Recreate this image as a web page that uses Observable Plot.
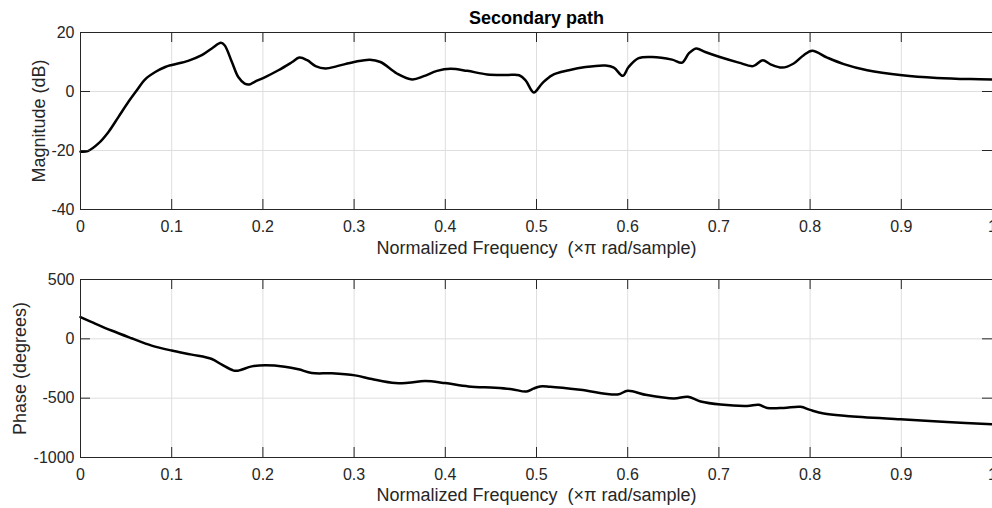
<!DOCTYPE html>
<html><head><meta charset="utf-8">
<script src="https://cdn.jsdelivr.net/npm/d3@7"></script>
<script src="https://cdn.jsdelivr.net/npm/@observablehq/plot@0.6"></script>
<style>
html,body{margin:0;padding:0;background:#fff;overflow:hidden;}
#chart svg{display:block;overflow:visible;}
</style></head><body><div id="chart"></div>
<script>
// ---- data ----
const freqMag = [0,0.008,0.0197,0.0307,0.0417,0.0526,0.0618,0.0709,0.082,0.0929,0.1,0.118,0.133,0.144,0.154,0.158,0.166,0.173,0.18,0.185,0.191,0.2025,0.217,0.2317,0.24,0.2486,0.2577,0.2686,0.2814,0.3,0.3173,0.3289,0.347,0.3637,0.3764,0.391,0.4057,0.424,0.446,0.468,0.481,0.488,0.497,0.506,0.517,0.5355,0.5537,0.5757,0.5848,0.5946,0.601,0.612,0.6268,0.6487,0.6597,0.667,0.675,0.685,0.701,0.7218,0.7375,0.748,0.7566,0.7694,0.782,0.793,0.8023,0.8187,0.837,0.8626,0.901,0.939,0.976,1.0];
const magDb = [-20.4,-20.2,-17.6,-13.7,-8.6,-3.5,0.4,4.1,6.6,8.3,9.0,10.4,12.3,14.6,16.5,15.7,10.0,4.9,2.7,2.4,3.3,4.9,7.2,9.9,11.5,10.6,8.6,7.8,8.6,10.0,10.8,10.0,6.1,4.1,5.2,7.0,7.7,7.0,5.8,5.6,5.5,3.8,-0.3,2.7,5.5,7.2,8.3,8.8,8.1,5.3,8.3,11.3,11.7,10.8,9.8,12.9,14.6,13.4,11.7,9.8,8.6,10.6,9.2,8.1,9.5,12.3,13.8,11.5,9.3,7.2,5.5,4.6,4.2,4.1];
const freqPhase = [0,0.0124,0.034,0.056,0.078,0.1,0.122,0.144,0.155,0.168,0.173,0.1878,0.2025,0.224,0.239,0.2536,0.2756,0.301,0.3195,0.345,0.3596,0.378,0.3998,0.4254,0.4547,0.473,0.489,0.4965,0.504,0.515,0.548,0.589,0.6,0.621,0.6506,0.666,0.68,0.702,0.731,0.7438,0.753,0.7712,0.7895,0.8,0.815,0.84,0.899,0.95,1.0];
const phaseDeg = [183,141,70,5,-57,-99,-133,-170,-218,-268,-268,-232,-223,-235,-257,-288,-291,-308,-339,-373,-370,-356,-373,-401,-412,-424,-444,-420,-401,-404,-429,-469,-438,-474,-503,-489,-528,-554,-565,-556,-582,-582,-573,-599,-630,-650,-678,-700,-720];

const xTicks = [0,0.1,0.2,0.3,0.4,0.5,0.6,0.7,0.8,0.9,1];
const xTickLabels = ["0","0.1","0.2","0.3","0.4","0.5","0.6","0.7","0.8","0.9","1"];
const magTicks = [-40,-20,0,20];
const magTickLabels = ["-40","-20","0","20"];
const phaseTicks = [-1000,-500,0,500];
const phaseTickLabels = ["-1000","-500","0","500"];
const titleText = "Secondary path";
const xLabel = "Normalized Frequency\u00a0 (\u00d7\u03c0 rad/sample)";
const magLabel = "Magnitude (dB)";
const phaseLabel = "Phase (degrees)";

const FONT = "'Liberation Sans', Arial, Helvetica, sans-serif";
const INK = "#262626";
const GRID = "#dedede";

function panel(o) {
  const W = 992, ML = 80, MR = 0;
  const innerH = o.height - o.marginTop - o.marginBottom;
  const innerW = W - ML - MR;
  const T = 10;
  const data = o.fx.map((f, i) => ({f, v: o.vals[i]}));
  const marks = [
    Plot.gridX(xTicks, {stroke: GRID, strokeOpacity: 1}),
    Plot.gridY(o.yTicks, {stroke: GRID, strokeOpacity: 1}),
    Plot.line(data, {x: "f", y: "v", stroke: "#000", strokeWidth: 2.5, curve: "catmull-rom"}),
    Plot.tickX(xTicks, {x: d => d, stroke: INK, insetTop: innerH - T}),
    Plot.tickX(xTicks, {x: d => d, stroke: INK, insetBottom: innerH - T}),
    Plot.tickY(o.yTicks, {y: d => d, stroke: INK, insetRight: innerW - T}),
    Plot.tickY(o.yTicks, {y: d => d, stroke: INK, insetLeft: innerW - T}),
    Plot.frame({stroke: INK}),
    Plot.axisX(xTicks, {tickSize: 0, tickPadding: 11, fontSize: 16, fill: INK, label: null,
      tickFormat: d => xTickLabels[xTicks.indexOf(d)]}),
    Plot.axisY(o.yTicks, {tickSize: 0, tickPadding: 6, fontSize: 16, fill: INK, label: null,
      tickFormat: d => o.yTickLabels[o.yTicks.indexOf(d)]}),
    Plot.text([xLabel], {text: d => d, frameAnchor: "bottom", lineAnchor: "middle", textAnchor: "middle",
      dy: o.xLabelDy, fontSize: 18, fill: INK}),
    Plot.text([o.yLabel], {text: d => d, frameAnchor: "left", lineAnchor: "middle", textAnchor: "middle",
      dx: o.yLabelDx, rotate: -90, fontSize: 18, fill: INK})
  ];
  if (o.title) marks.push(Plot.text([o.title], {text: d => d, frameAnchor: "top", lineAnchor: "middle", textAnchor: "middle",
    dy: -14, fontSize: 18, fontWeight: "bold", fill: "#000"}));
  return Plot.plot({
    width: W, height: o.height,
    marginLeft: ML, marginRight: MR, marginTop: o.marginTop, marginBottom: o.marginBottom,
    style: {fontFamily: FONT, background: "#fff", overflow: "visible"},
    x: {domain: [0, 1]},
    y: {domain: o.yDomain},
    marks
  });
}

const magPanel = panel({fx: freqMag, vals: magDb, yDomain: [-40, 20], yTicks: magTicks, yTickLabels: magTickLabels,
  yLabel: magLabel, height: 256, marginTop: 32, marginBottom: 47, xLabelDy: 38.5, yLabelDx: -41.5, title: titleText});
const phasePanel = panel({fx: freqPhase, vals: phaseDeg, yDomain: [-1000, 500], yTicks: phaseTicks, yTickLabels: phaseTickLabels,
  yLabel: phaseLabel, height: 252, marginTop: 23, marginBottom: 51, xLabelDy: 38, yLabelDx: -60});
document.getElementById("chart").append(magPanel, phasePanel);
</script>
</body></html>
